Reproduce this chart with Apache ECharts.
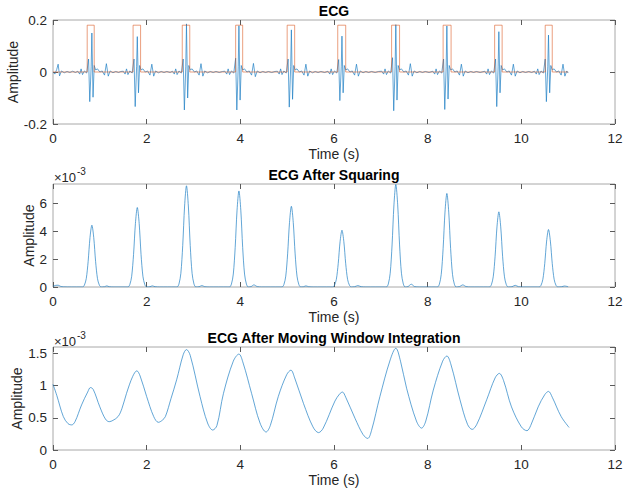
<!DOCTYPE html>
<html>
<head>
<meta charset="utf-8">
<script src="https://cdn.jsdelivr.net/npm/echarts@6/dist/echarts.min.js"></script>
<style>
html,body{margin:0;padding:0;background:#fff;}
#chart{width:623px;height:496px;}
</style>
</head>
<body>
<div id="chart"></div>
<script>
// ---------- DATA ----------
const xTicks = [0, 2, 4, 6, 8, 10, 12];
const titles = ['ECG', 'ECG After Squaring', 'ECG After Moving Window Integration'];

// Panel 1: band-passed ECG [time s, amplitude]
const ecgPoints = [
[0.00,0.000],[0.04,-0.008],[0.08,0.010],[0.11,0.030],[0.14,-0.015],[0.18,0.004],[0.24,-0.003],[0.30,0.002],[0.36,-0.002],[0.42,0.003],[0.48,-0.002],
[0.53,0.003],[0.57,-0.008],[0.60,0.012],[0.63,-0.010],[0.67,0.004],[0.72,-0.004],[0.76,0.050],[0.785,-0.114],[0.815,0.020],[0.83,0.150],[0.855,-0.097],[0.88,0.025],[0.91,0.008],[0.95,0.012],[1.00,0.000],[1.05,0.004],[1.10,-0.012],[1.14,0.032],[1.18,-0.016],[1.22,0.004],[1.28,-0.003],[1.34,0.002],[1.40,-0.002],[1.45,0.002],
[1.50,0.003],[1.54,-0.008],[1.57,0.012],[1.60,-0.010],[1.64,0.004],[1.69,-0.004],[1.73,0.050],[1.755,-0.133],[1.785,0.020],[1.80,0.136],[1.825,-0.080],[1.85,0.025],[1.88,0.008],[1.92,0.012],[1.97,0.000],[2.02,0.004],[2.07,-0.012],[2.11,0.030],[2.15,-0.016],[2.19,0.004],[2.25,-0.003],[2.31,0.002],[2.37,-0.002],[2.43,0.002],[2.50,-0.002],
[2.55,0.003],[2.59,-0.008],[2.62,0.012],[2.65,-0.010],[2.69,0.004],[2.74,-0.004],[2.78,0.050],[2.805,-0.146],[2.835,0.020],[2.85,0.185],[2.875,-0.100],[2.90,0.025],[2.93,0.008],[2.97,0.012],[3.02,0.000],[3.07,0.004],[3.12,-0.012],[3.16,0.032],[3.20,-0.016],[3.24,0.004],[3.30,-0.003],[3.36,0.002],[3.42,-0.002],[3.48,0.002],[3.55,-0.002],[3.62,0.002],
[3.67,0.003],[3.71,-0.008],[3.74,0.012],[3.77,-0.010],[3.81,0.004],[3.86,-0.004],[3.90,0.053],[3.925,-0.146],[3.955,0.020],[3.97,0.178],[3.995,-0.108],[4.02,0.025],[4.05,0.008],[4.09,0.012],[4.14,0.000],[4.19,0.004],[4.24,-0.012],[4.28,0.033],[4.32,-0.018],[4.36,0.004],[4.42,-0.003],[4.48,0.002],[4.54,-0.002],[4.60,0.002],[4.67,-0.002],[4.74,0.002],
[4.79,0.003],[4.83,-0.008],[4.86,0.012],[4.89,-0.010],[4.93,0.004],[4.98,-0.004],[5.02,0.050],[5.045,-0.135],[5.075,0.020],[5.09,0.162],[5.115,-0.105],[5.14,0.025],[5.17,0.008],[5.21,0.012],[5.26,0.000],[5.31,0.004],[5.36,-0.012],[5.40,0.030],[5.44,-0.016],[5.48,0.004],[5.54,-0.003],[5.60,0.002],[5.66,-0.002],[5.72,0.002],[5.80,-0.002],
[5.87,0.003],[5.91,-0.008],[5.94,0.012],[5.97,-0.010],[6.01,0.004],[6.06,-0.004],[6.10,0.048],[6.125,-0.110],[6.155,0.020],[6.17,0.138],[6.195,-0.080],[6.22,0.025],[6.25,0.008],[6.29,0.012],[6.34,0.000],[6.39,0.004],[6.44,-0.012],[6.48,0.030],[6.52,-0.016],[6.56,0.004],[6.62,-0.003],[6.68,0.002],[6.74,-0.002],[6.80,0.002],[6.88,-0.002],[6.95,0.002],
[7.02,0.003],[7.06,-0.008],[7.09,0.012],[7.12,-0.010],[7.16,0.004],[7.21,-0.004],[7.25,0.055],[7.275,-0.149],[7.305,0.020],[7.32,0.182],[7.345,-0.108],[7.37,0.025],[7.40,0.008],[7.44,0.012],[7.49,0.000],[7.54,0.004],[7.59,-0.012],[7.63,0.032],[7.67,-0.016],[7.71,0.004],[7.77,-0.003],[7.83,0.002],[7.89,-0.002],[7.95,0.002],[8.03,-0.002],
[8.11,0.003],[8.15,-0.008],[8.18,0.012],[8.21,-0.010],[8.25,0.004],[8.30,-0.004],[8.34,0.050],[8.365,-0.144],[8.395,0.020],[8.41,0.177],[8.435,-0.104],[8.46,0.025],[8.49,0.008],[8.53,0.012],[8.58,0.000],[8.63,0.004],[8.68,-0.012],[8.72,0.030],[8.76,-0.016],[8.80,0.004],[8.86,-0.003],[8.92,0.002],[8.98,-0.002],[9.04,0.002],[9.12,-0.002],
[9.22,0.003],[9.26,-0.008],[9.29,0.012],[9.32,-0.010],[9.36,0.004],[9.41,-0.004],[9.45,0.050],[9.475,-0.133],[9.505,0.020],[9.52,0.155],[9.545,-0.080],[9.57,0.025],[9.60,0.008],[9.64,0.012],[9.69,0.000],[9.74,0.004],[9.79,-0.012],[9.83,0.030],[9.87,-0.016],[9.91,0.004],[9.97,-0.003],[10.03,0.002],[10.09,-0.002],[10.16,0.002],[10.22,-0.002],
[10.28,0.003],[10.32,-0.008],[10.35,0.012],[10.38,-0.010],[10.42,0.004],[10.47,-0.004],[10.51,0.050],[10.535,-0.114],[10.565,0.020],[10.58,0.142],[10.605,-0.080],[10.63,0.025],[10.66,0.008],[10.70,0.012],[10.75,0.000],[10.80,0.004],[10.85,-0.012],[10.89,0.030],[10.93,-0.016],[10.97,0.004],[11.00,-0.004]
];

// Panel 1: detection pulses (orange rectangles)
const pulseStart = [0.73, 1.71, 2.76, 3.90, 5.00, 6.08, 7.23, 8.33, 9.43, 10.51];
const pulseEnd   = [0.88, 1.87, 2.92, 4.05, 5.16, 6.25, 7.40, 8.50, 9.59, 10.66];
const pulseHeight = 0.18;
const signalEnd = 11.0;

// Panel 2: squared signal, units of 1e-3 [time s, value]
const squaredE3 = [
[0.00,0.05],[0.06,0.12],[0.11,0.13],[0.16,0.05],[0.22,0.01],[0.40,0],[0.60,0],
[0.63,0],[0.67,0.13],[0.71,0.60],[0.75,1.82],[0.79,3.55],[0.83,4.44],[0.87,3.55],[0.91,1.82],[0.95,0.60],[0.99,0.13],[1.03,0],
[1.10,0.02],[1.15,0.08],[1.20,0.02],[1.30,0],[1.56,0],
[1.60,0],[1.64,0.17],[1.68,0.77],[1.72,2.34],[1.76,4.57],[1.80,5.71],[1.84,4.57],[1.88,2.34],[1.92,0.77],[1.96,0.17],[2.00,0],
[2.07,0.02],[2.12,0.08],[2.18,0.02],[2.28,0],[2.61,0],
[2.65,0],[2.69,0.22],[2.73,0.98],[2.77,2.98],[2.81,5.82],[2.85,7.27],[2.89,5.82],[2.93,2.98],[2.97,0.98],[3.01,0.22],[3.05,0],
[3.12,0.02],[3.18,0.10],[3.24,0.02],[3.34,0],[3.73,0],
[3.77,0],[3.81,0.21],[3.85,0.93],[3.89,2.83],[3.93,5.52],[3.97,6.90],[4.01,5.52],[4.05,2.83],[4.09,0.93],[4.13,0.21],[4.17,0],
[4.23,0.03],[4.29,0.15],[4.36,0.03],[4.45,0],[4.85,0],
[4.89,0],[4.93,0.17],[4.97,0.78],[5.01,2.38],[5.05,4.64],[5.09,5.80],[5.13,4.64],[5.17,2.38],[5.21,0.78],[5.25,0.17],[5.29,0],
[5.35,0.02],[5.40,0.08],[5.46,0.02],[5.56,0],[5.93,0],
[5.97,0],[6.01,0.12],[6.05,0.55],[6.09,1.67],[6.13,3.26],[6.17,4.08],[6.21,3.26],[6.25,1.67],[6.29,0.55],[6.33,0.12],[6.37,0],
[6.44,0.02],[6.51,0.10],[6.58,0.02],[6.68,0],[7.08,0],
[7.12,0],[7.16,0.22],[7.20,0.99],[7.24,3.02],[7.28,5.90],[7.32,7.37],[7.36,5.90],[7.40,3.02],[7.44,0.99],[7.48,0.22],[7.52,0],
[7.58,0.03],[7.65,0.20],[7.72,0.03],[7.82,0],[8.17,0],
[8.21,0],[8.25,0.20],[8.29,0.91],[8.33,2.76],[8.37,5.38],[8.41,6.72],[8.45,5.38],[8.49,2.76],[8.53,0.91],[8.57,0.20],[8.61,0],
[8.68,0.03],[8.75,0.15],[8.82,0.03],[8.92,0],[9.28,0],
[9.32,0],[9.36,0.16],[9.40,0.73],[9.44,2.21],[9.48,4.32],[9.52,5.40],[9.56,4.32],[9.60,2.21],[9.64,0.73],[9.68,0.16],[9.72,0],
[9.80,0.02],[9.87,0.12],[9.94,0.02],[10.04,0],[10.34,0],
[10.38,0],[10.42,0.12],[10.46,0.56],[10.50,1.69],[10.54,3.30],[10.58,4.13],[10.62,3.30],[10.66,1.69],[10.70,0.56],[10.74,0.12],[10.78,0],
[10.86,0.02],[10.92,0.07],[11.00,0.02]
];

// Panel 3: moving window integration, units of 1e-3 [time s, value]
const mwiE3 = [
[0.00,1.02],[0.08,0.85],[0.22,0.52],[0.32,0.41],[0.40,0.39],[0.47,0.44],[0.61,0.70],[0.74,0.90],[0.80,0.97],[0.86,0.94],[1.00,0.67],[1.12,0.48],[1.20,0.44],[1.28,0.46],[1.39,0.52],[1.47,0.64],[1.57,0.88],[1.70,1.14],[1.79,1.23],[1.86,1.15],[2.00,0.83],[2.15,0.52],[2.25,0.43],[2.33,0.46],[2.40,0.52],[2.52,0.80],[2.64,1.09],[2.78,1.48],[2.85,1.56],[2.93,1.47],[3.14,0.83],[3.30,0.42],[3.41,0.31],[3.50,0.38],[3.64,0.88],[3.85,1.38],[3.97,1.49],[4.06,1.35],[4.24,0.88],[4.42,0.42],[4.55,0.28],[4.64,0.38],[4.81,0.83],[4.99,1.17],[5.08,1.24],[5.16,1.12],[5.35,0.72],[5.55,0.36],[5.67,0.27],[5.77,0.34],[6.02,0.76],[6.12,0.87],[6.18,0.90],[6.25,0.82],[6.45,0.49],[6.62,0.24],[6.72,0.18],[6.80,0.30],[6.98,0.83],[7.20,1.40],[7.32,1.58],[7.42,1.38],[7.55,0.96],[7.76,0.45],[7.87,0.34],[7.96,0.45],[8.12,0.93],[8.32,1.38],[8.41,1.46],[8.50,1.32],[8.69,0.78],[8.85,0.40],[8.95,0.32],[9.05,0.40],[9.26,0.78],[9.44,1.12],[9.53,1.19],[9.62,1.08],[9.79,0.67],[10.00,0.36],[10.12,0.30],[10.20,0.38],[10.36,0.67],[10.50,0.86],[10.58,0.91],[10.66,0.82],[10.85,0.52],[11.02,0.35]
];

const yRanges = [
  {min: -0.2, max: 0.2, interval: 0.2},
  {min: 0, max: 7.4, interval: 2},
  {min: 0, max: 1.6, interval: 0.5}
];

// ---------- BUILD ----------
const pulseData = [[0, 0]];
for (let i = 0; i < pulseStart.length; i++) {
  pulseData.push([pulseStart[i], 0], [pulseStart[i], pulseHeight], [pulseEnd[i], pulseHeight], [pulseEnd[i], 0]);
}
pulseData.push([signalEnd, 0]);

const FONT = 'Liberation Sans, Arial, Helvetica, sans-serif';
const TXT = '#262626';
const BORDER = '#a8a8a8';
const TICK = '#5a5a5a';

const L = 53, W = 562;
const grids = [
  {left: L, top: 20, width: W, height: 104},
  {left: L, top: 184, width: W, height: 103},
  {left: L, top: 347, width: W, height: 103}
];
const yNameGaps = [33, 17, 29];

const xAxes = [], yAxes = [];
grids.forEach((g, i) => {
  const common = {type: 'value', gridIndex: i, min: 0, max: 12, interval: 2,
    axisLine: {show: false, onZero: false}, splitLine: {show: false},
    axisTick: {show: true, inside: true, length: 5, lineStyle: {color: TICK, width: 1}}};
  xAxes.push(Object.assign({}, common, {
    position: 'bottom', name: 'Time (s)', nameLocation: 'middle', nameGap: 23, nameMoveOverlap: false,
    nameTextStyle: {color: TXT, fontSize: 14, fontFamily: FONT},
    axisLabel: {color: TXT, fontSize: 13.5, fontFamily: FONT, margin: 7}
  }));
  xAxes.push(Object.assign({}, common, {position: 'top', axisLabel: {show: false}}));
  const r = yRanges[i];
  const yc = {type: 'value', gridIndex: i, min: r.min, max: r.max, interval: r.interval,
    axisLine: {show: false, onZero: false}, splitLine: {show: false},
    axisTick: {show: true, inside: true, length: 5, lineStyle: {color: TICK, width: 1}}};
  yAxes.push(Object.assign({}, yc, {
    position: 'left', name: 'Amplitude', nameLocation: 'middle', nameGap: yNameGaps[i], nameMoveOverlap: false,
    nameTextStyle: {color: TXT, fontSize: 14, fontFamily: FONT},
    axisLabel: {color: TXT, fontSize: 13.5, fontFamily: FONT, margin: 6, showMaxLabel: i === 0}
  }));
  yAxes.push(Object.assign({}, yc, {position: 'right', axisLabel: {show: false}}));
});

const lineBase = {type: 'line', showSymbol: false, symbol: 'none', animation: false};
const BLUE = '#1f7fc4';
const series = [
  Object.assign({}, lineBase, {xAxisIndex: 0, yAxisIndex: 0, data: ecgPoints,
    lineStyle: {color: BLUE, width: 0.7}}),
  Object.assign({}, lineBase, {xAxisIndex: 0, yAxisIndex: 0, data: pulseData,
    lineStyle: {color: '#D95319', width: 0.7, opacity: 0.8}}),
  Object.assign({}, lineBase, {xAxisIndex: 2, yAxisIndex: 2, data: squaredE3, smooth: 0.3,
    lineStyle: {color: BLUE, width: 0.7}}),
  Object.assign({}, lineBase, {xAxisIndex: 4, yAxisIndex: 4, data: mwiE3, smooth: 0.35,
    lineStyle: {color: BLUE, width: 0.7}})
];

const titleY = [11, 175, 338];
const graphic = [];
titles.forEach((t, i) => {
  graphic.push({type: 'text', x: L + W / 2, y: titleY[i],
    style: {text: t, fill: '#000', font: 'bold 14px ' + FONT, textAlign: 'center', textVerticalAlign: 'middle'}});
});
[[177, 171], [341, 335]].forEach(p => {
  graphic.push({type: 'text', x: 54, y: p[0],
    style: {text: '×10', fill: TXT, font: '13px ' + FONT, textAlign: 'left', textVerticalAlign: 'middle'}});
  graphic.push({type: 'text', x: 77, y: p[1],
    style: {text: '-3', fill: TXT, font: '10px ' + FONT, textAlign: 'left', textVerticalAlign: 'middle'}});
});

const chart = echarts.init(document.getElementById('chart'), null, {renderer: 'svg', width: 623, height: 496});
chart.setOption({
  animation: false,
  backgroundColor: '#fff',
  grid: grids.map(g => Object.assign({show: true, borderColor: BORDER, borderWidth: 1, backgroundColor: 'transparent',
    containLabel: false, outerBoundsMode: 'none'}, g)),
  xAxis: xAxes,
  yAxis: yAxes,
  series: series,
  graphic: graphic
});
</script>
</body>
</html>
